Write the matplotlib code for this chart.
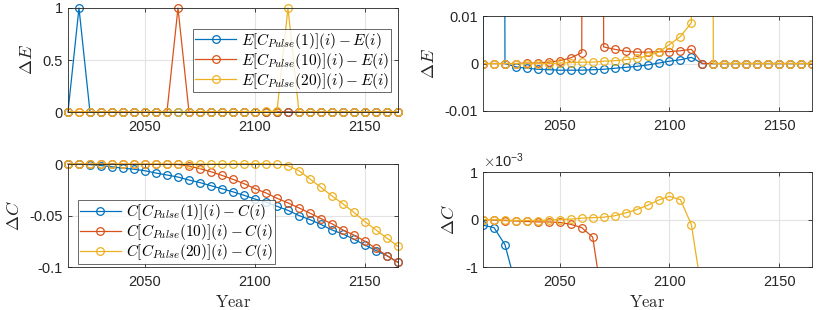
import numpy as np
import matplotlib
matplotlib.use('Agg')
import matplotlib.pyplot as plt
from matplotlib.ticker import FuncFormatter

plt.rcParams['font.family'] = ['Liberation Sans', 'DejaVu Sans']
plt.rcParams['mathtext.fontset'] = 'cm'
plt.rcParams['axes.unicode_minus'] = False

# years 2015..2165, every 5 years
years = np.arange(2015, 2170, 5)

# Delta E for pulses at step 1, 10, 20
dE1 = [0, 1, 0, -0.0007, -0.001, -0.0012, -0.0013, -0.0014, -0.0014, -0.0014,
       -0.0013, -0.0012, -0.001, -0.0008, -0.0006, -0.0003, 0.0001, 0.0005, 0.0008, 0.0013,
       0, 0, 0, 0, 0, 0, 0, 0, 0, 0, 0]
dE10 = [0, 0, 0, 0, 0.0001, 0.0001, 0.0003, 0.0006, 0.0012, 0.0023,
        1, 0.0035, 0.003, 0.0026, 0.0024, 0.0024, 0.0025, 0.0025, 0.0027, 0.003,
        0, 0, 0, 0, 0, 0, 0, 0, 0, 0, 0]
dE20 = [0, 0, 0, 0, 0, 0, 0, 0.0001, 0.0002, 0.0003,
        0.0003, 0.0005, 0.0006, 0.0008, 0.0011, 0.0016, 0.0024, 0.004, 0.0057, 0.0086,
        1, 0, 0, 0, 0, 0, 0, 0, 0, 0, 0]

# Delta C
dC1 = [-0.00012, -0.00017, -0.00053, -0.0014, -0.0026, -0.004, -0.005, -0.0065, -0.0087, -0.0106,
       -0.0126, -0.0155, -0.018, -0.021, -0.024, -0.027, -0.0303, -0.034, -0.037, -0.041,
       -0.045, -0.05, -0.054, -0.0587, -0.064, -0.068, -0.073, -0.0787, -0.084, -0.089, -0.0955]
dC10 = [0, -0.00001, -0.00002, -0.00003, -0.00004, -0.00005, -0.00005, -0.00006, -0.0001, -0.00017,
        -0.00037, -0.0019, -0.0045, -0.0074, -0.011, -0.0148, -0.019, -0.0239, -0.028, -0.0332,
        -0.0377, -0.0426, -0.0477, -0.053, -0.058, -0.064, -0.069, -0.075, -0.082, -0.089, -0.0955]
dC20 = [0, 0, -0.00001, -0.00002, -0.00002, -0.00002, -0.00001, 0, 0.00001, 0.00003,
        0.00004, 0.00005, 0.00008, 0.00014, 0.00021, 0.0003, 0.00041, 0.00049, 0.00042, -0.00011,
        -0.0016, -0.0065, -0.0145, -0.0226, -0.031, -0.0387, -0.047, -0.056, -0.064, -0.072, -0.08]

colors = ['#0072BD', '#D95319', '#EDB120']
pulses = ['1', '10', '20']
E_labels = [r'$E[C_{Pulse}(%s)](i)-E(i)$' % p for p in pulses]
C_labels = [r'$C[C_{Pulse}(%s)](i)-C(i)$' % p for p in pulses]

fig = plt.figure(figsize=(8.25, 3.1), dpi=100)
ax_tl = fig.add_axes([0.0824, 0.6387, 0.4, 0.3355])
ax_tr = fig.add_axes([0.5855, 0.642, 0.3988, 0.306])
ax_bl = fig.add_axes([0.0824, 0.1387, 0.4, 0.332])
ax_br = fig.add_axes([0.5855, 0.1387, 0.3988, 0.306])

fmt = FuncFormatter(lambda v, p: '%g' % round(v, 6))

def style(ax, yticks, ylabel):
    ax.set_xlim(2015, 2165)
    ax.set_xticks([2050, 2100, 2150])
    ax.set_yticks(yticks)
    ax.set_ylim(yticks[0], yticks[-1])
    ax.grid(True, color='#e3e3e3', linewidth=0.8)
    ax.set_axisbelow(True)
    ax.tick_params(direction='in', top=True, right=True, labelsize=10.5,
                   colors='#262626', length=3, width=0.6)
    ax.tick_params(axis='x', pad=6)
    for s in ax.spines.values():
        s.set_color('#262626')
        s.set_linewidth(0.6)
    ax.set_ylabel(ylabel, fontsize=13, color='#262626', labelpad=5)

for ax, series, clip in [(ax_tl, [dE1, dE10, dE20], False), (ax_tr, [dE1, dE10, dE20], True)]:
    for ys, c, lab in zip(series, colors, E_labels):
        ax.plot(years, ys, '-o', color=c, mfc='none', ms=5.5, mew=0.9, lw=0.9,
                label=lab, clip_on=clip)

for ax, series, clip in [(ax_bl, [dC1, dC10, dC20], False), (ax_br, [dC1, dC10, dC20], True)]:
    for ys, c, lab in zip(series, colors, C_labels):
        ax.plot(years, ys, '-o', color=c, mfc='none', ms=5.5, mew=0.9, lw=0.9,
                label=lab, clip_on=clip)

style(ax_tl, [0, 0.5, 1], r'$\Delta E$')
style(ax_tr, [-0.01, 0, 0.01], r'$\Delta E$')
style(ax_bl, [-0.1, -0.05, 0], r'$\Delta C$')
style(ax_br, [-0.001, 0, 0.001], r'$\Delta C$')
for ax in [ax_tl, ax_tr, ax_bl]:
    ax.yaxis.set_major_formatter(fmt)
ax_br.yaxis.set_major_formatter(FuncFormatter(lambda v, p: '%g' % round(v * 1000, 6)))
ax_br.text(0.0, 1.02, r'$\times\mathregular{10^{-3}}$', transform=ax_br.transAxes,
           fontsize=10.5, color='#262626', ha='left', va='bottom')

for ax in [ax_bl, ax_br]:
    ax.set_xlabel(r'$\mathrm{Year}$', fontsize=12, color='#262626', labelpad=3)

leg_kw = dict(fontsize=11, frameon=True, fancybox=False, edgecolor='#262626',
              handlelength=2.7, borderpad=0.12, labelspacing=0.0, handletextpad=0.3,
              borderaxespad=0.0)
l1 = ax_tl.legend(loc='upper left', bbox_to_anchor=(0.379, 0.80), **leg_kw)
l2 = ax_bl.legend(loc='upper left', bbox_to_anchor=(0.03, 0.65), **leg_kw)
for l in (l1, l2):
    l.get_frame().set_linewidth(0.6)

fig.savefig('out.png', dpi=100)
